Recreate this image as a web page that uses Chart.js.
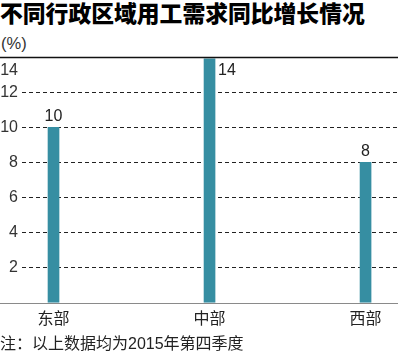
<!DOCTYPE html>
<html lang="zh">
<head>
<meta charset="UTF-8">
<title>不同行政区域用工需求同比增长情况</title>
<script src="https://cdn.jsdelivr.net/npm/chart.js"></script>
<style>
    html, body { margin: 0; padding: 0; background: #fff; }
    body {
        width: 399px; height: 354px; position: relative; overflow: hidden;
        font-family: "Liberation Sans", Arial, "Noto Sans CJK SC", sans-serif; color: #222;
    }
    #chart { position: absolute; left: 0; top: 0; }
    .title {
        position: absolute; left: 0; top: 0; white-space: nowrap;
        font-family: "Noto Sans CJK SC", sans-serif; font-weight: 900;
        font-size: 22.8px; line-height: 26px; color: #000;
    }
    .unit { position: absolute; left: 1px; top: 33px; font-size: 16.5px; line-height: 20px; color: #333; }
    .note { position: absolute; left: 0; top: 334px; font-size: 16px; line-height: 19px; white-space: nowrap; }
</style>
</head>
<body>
    <div class="title">不同行政区域用工需求同比增长情况</div>
    <div class="unit">(%)</div>
    <canvas id="chart" width="399" height="354"></canvas>
    <div class="note">注：以上数据均为2015年第四季度</div>
<script>
    const regions = ['东部', '中部', '西部'];
    const growth = [10, 13.9, 8];
    const yMax = 14;
    const yStep = 2;

    const FONT = '"Liberation Sans", Arial, "Noto Sans CJK SC", sans-serif';
    const barColor = '#368ea2';

    // top rule, base line, the "14" label under the rule and the value labels
    const extras = {
        id: 'extras',
        afterDraw(chart) {
            const ctx = chart.ctx;
            const y = chart.scales.y;
            ctx.save();

            const yTop = Math.round(y.getPixelForValue(yMax)) + 0.5;
            ctx.strokeStyle = '#111';
            ctx.lineWidth = 1.5;
            ctx.beginPath();
            ctx.moveTo(0, yTop);
            ctx.lineTo(chart.width - 1, yTop);
            ctx.stroke();

            const yBase = Math.round(y.getPixelForValue(0)) + 0.5;
            ctx.strokeStyle = '#8a8a8a';
            ctx.lineWidth = 1;
            ctx.beginPath();
            ctx.moveTo(0, yBase);
            ctx.lineTo(chart.width - 1, yBase);
            ctx.stroke();

            ctx.font = '16px ' + FONT;
            ctx.fillStyle = '#333';
            ctx.textAlign = 'right';
            ctx.textBaseline = 'middle';
            ctx.fillText(String(yMax), y.right - 4, yTop + 13);

            ctx.fillStyle = '#222';
            ctx.textBaseline = 'alphabetic';
            const meta = chart.getDatasetMeta(0);
            meta.data.forEach((bar, i) => {
                const text = String(Math.round(growth[i]));
                if (Math.round(growth[i]) >= yMax) {
                    ctx.textAlign = 'left';
                    ctx.fillText(text, bar.x + bar.width / 2 + 3, bar.y + 16);
                } else {
                    ctx.textAlign = 'center';
                    ctx.fillText(text, bar.x, bar.y - 6);
                }
            });
            ctx.restore();
        }
    };

    new Chart(document.getElementById('chart'), {
        type: 'bar',
        data: {
            datasets: [{
                data: regions.map((r, i) => ({ x: i, y: growth[i] })),
                backgroundColor: barColor,
                barThickness: 11
            }]
        },
        options: {
            responsive: false,
            animation: false,
            devicePixelRatio: 1,
            layout: { padding: { top: 57, right: 1, bottom: 17, left: 0 } },
            plugins: {
                legend: { display: false },
                tooltip: { enabled: false }
            },
            scales: {
                x: {
                    type: 'linear',
                    offset: false,
                    min: -0.202,
                    max: 2.208,
                    afterBuildTicks: s => { s.ticks = regions.map((r, i) => ({ value: i })); },
                    ticks: {
                        callback: v => regions[v],
                        font: { size: 16, family: FONT },
                        color: '#222',
                        padding: 7.5,
                        autoSkip: false,
                        maxRotation: 0
                    },
                    grid: { display: false, drawTicks: false },
                    border: { display: false }
                },
                y: {
                    min: 0,
                    max: yMax,
                    afterFit: s => { s.width = 22; },
                    ticks: {
                        stepSize: yStep,
                        callback: v => (v === 0 || v === yMax) ? '' : v,
                        font: { size: 16, family: FONT },
                        color: '#333',
                        padding: 4
                    },
                    grid: {
                        color: c => (c.tick && (c.tick.value === 0 || c.tick.value === yMax)) ? 'rgba(0,0,0,0)' : '#222',
                        lineWidth: 1,
                        drawTicks: false
                    },
                    border: { display: false, dash: [4, 3] }
                }
            }
        },
        plugins: [extras]
    });
</script>
</body>
</html>
